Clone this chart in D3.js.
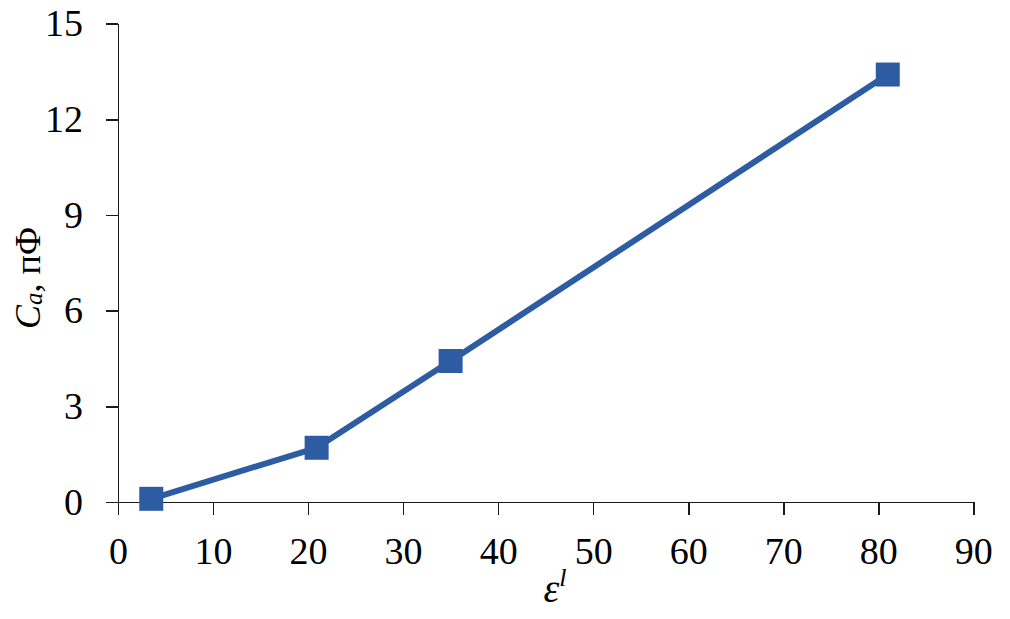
<!DOCTYPE html>
<html>
<head>
<meta charset="utf-8">
<script src="https://cdn.jsdelivr.net/npm/d3@7"></script>
<style>
  html, body { margin: 0; padding: 0; background: #fff; }
  svg { display: block; }
  .axis text { font-family: "Liberation Serif", Tinos, "Times New Roman", Times, "DejaVu Serif", serif; font-size: 38px; fill: #000; }
  .axis path, .axis line { stroke: #1a1a1a; stroke-width: 1.6px; shape-rendering: crispEdges; }
  .lbl { font-family: "Liberation Serif", Tinos, "Times New Roman", Times, "DejaVu Serif", serif; fill: #000; }
</style>
</head>
<body>
<script>
// Data
const epsilon = [3.5, 20.9, 35.0, 81.0];
const capacitance = [0.1, 1.7, 4.42, 13.4];
const xTicks = [0, 10, 20, 30, 40, 50, 60, 70, 80, 90];
const yTicks = [0, 3, 6, 9, 12, 15];

const W = 1010, H = 619;
const svg = d3.select("body").append("svg").attr("width", W).attr("height", H);

const x = d3.scaleLinear().domain([0, 90]).range([118, 973.3]);
const y = d3.scaleLinear().domain([0, 15]).range([502, 23.5]);

const color = "#2e5ca3";

// X axis
const gx = svg.append("g").attr("class", "axis")
  .attr("transform", `translate(0,${y(0)})`)
  .call(d3.axisBottom(x).tickValues(xTicks).tickSize(13).tickPadding(22).tickSizeOuter(0).tickFormat(d3.format("d")));
gx.attr("font-family", null).attr("font-size", null);

// Y axis
const gy = svg.append("g").attr("class", "axis")
  .attr("transform", `translate(${x(0)},0)`)
  .call(d3.axisLeft(y).tickValues(yTicks).tickSize(12).tickPadding(23).tickSizeOuter(0).tickFormat(d3.format("d")));
gy.attr("font-family", null).attr("font-size", null);

// Line
const data = epsilon.map((e, i) => ({ e, c: capacitance[i] }));
svg.append("path")
  .datum(data)
  .attr("fill", "none")
  .attr("stroke", color)
  .attr("stroke-width", 6)
  .attr("stroke-linejoin", "round")
  .attr("d", d3.line().x(d => x(d.e)).y(d => y(d.c)));

// Markers
const ms = 24;
svg.selectAll("rect.marker").data(data).join("rect")
  .attr("class", "marker")
  .attr("x", d => x(d.e) - ms / 2)
  .attr("y", d => y(d.c) - ms / 2)
  .attr("width", ms).attr("height", ms)
  .attr("fill", color);

// Y axis label
const yl = svg.append("text")
  .attr("class", "lbl")
  .attr("transform", "translate(40,278) rotate(-90)")
  .attr("text-anchor", "middle")
  .style("font-size", "36px");
yl.append("tspan").style("font-style", "italic").text("C");
yl.append("tspan").style("font-style", "italic").style("font-size", "25px").attr("dy", "2").text("a");
yl.append("tspan").attr("dy", "-2").text(", пФ");

// X axis label
const xl = svg.append("text")
  .attr("class", "lbl")
  .attr("x", 555).attr("y", 602)
  .attr("text-anchor", "middle")
  .style("font-size", "40px");
xl.append("tspan").style("font-style", "italic").text("ε");
xl.append("tspan").style("font-style", "italic").style("font-size", "26px").attr("dy", "-16").text("l");
</script>
</body>
</html>
